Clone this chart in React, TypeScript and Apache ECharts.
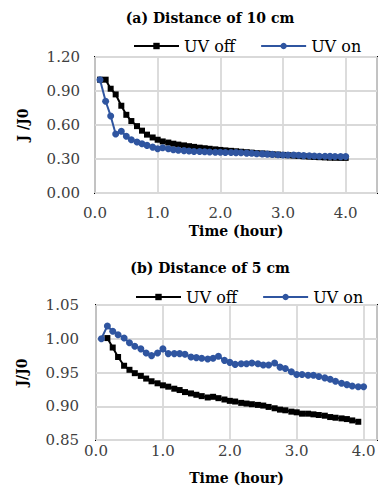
import React, { useEffect, useRef } from "react";
import * as echarts from "echarts";

// Time in hours (5-minute readings)
const timeH = [
  0.08, 0.17, 0.25, 0.33, 0.42, 0.5, 0.58, 0.67, 0.75, 0.83, 0.92, 1.0,
  1.08, 1.17, 1.25, 1.33, 1.42, 1.5, 1.58, 1.67, 1.75, 1.83, 1.92, 2.0,
  2.08, 2.17, 2.25, 2.33, 2.42, 2.5, 2.58, 2.67, 2.75, 2.83, 2.92, 3.0,
  3.08, 3.17, 3.25, 3.33, 3.42, 3.5, 3.58, 3.67, 3.75, 3.83, 3.92, 4.0,
];

// (a) Distance of 10 cm
const a_uvOff = [
  1.0, 1.0, 0.92, 0.87, 0.77, 0.69, 0.635, 0.59, 0.55, 0.515, 0.49, 0.47,
  0.455, 0.445, 0.435, 0.427, 0.42, 0.413, 0.407, 0.4, 0.395, 0.39, 0.385, 0.38,
  0.376, 0.372, 0.368, 0.364, 0.36, 0.356, 0.352, 0.349, 0.346, 0.342, 0.339, 0.336,
  0.333, 0.33, 0.327, 0.324, 0.321, 0.318, 0.316, 0.314, 0.312, 0.311, 0.31, 0.31,
];
const a_uvOn = [
  1.0, 0.81, 0.68, 0.52, 0.545, 0.5, 0.47, 0.45, 0.435, 0.42, 0.405, 0.39,
  0.4, 0.39, 0.382, 0.378, 0.374, 0.37, 0.366, 0.366, 0.364, 0.362, 0.36, 0.36,
  0.358, 0.357, 0.356, 0.355, 0.352, 0.35, 0.347, 0.345, 0.343, 0.341, 0.338, 0.336,
  0.335, 0.336, 0.333, 0.33, 0.328, 0.327, 0.325, 0.324, 0.323, 0.322, 0.321, 0.322,
];

// (b) Distance of 5 cm
const b_uvOff = [
  null, 1.001, 0.987, 0.973, 0.96, 0.954, 0.949, 0.945, 0.941, 0.937, 0.934, 0.931,
  0.929, 0.926, 0.924, 0.921, 0.919, 0.917, 0.915, 0.913, 0.914, 0.912, 0.91, 0.908,
  0.907, 0.905, 0.904, 0.903, 0.902, 0.901, 0.899, 0.897, 0.895, 0.894, 0.892, 0.891,
  0.889, 0.889, 0.888, 0.887, 0.886, 0.884, 0.883, 0.882, 0.881, 0.879, 0.877, null,
];
const b_uvOn = [
  1.0, 1.019, 1.011, 1.006, 1.001, 0.994, 0.989, 0.985, 0.979, 0.975, 0.979, 0.985,
  0.978, 0.978, 0.978, 0.977, 0.973, 0.972, 0.971, 0.97, 0.971, 0.974, 0.968, 0.965,
  0.962, 0.963, 0.963, 0.964, 0.963, 0.961, 0.961, 0.964, 0.958, 0.956, 0.951, 0.947,
  0.947, 0.946, 0.946, 0.944, 0.942, 0.94, 0.937, 0.934, 0.932, 0.93, 0.929, 0.929,
];

const seriesNames = ["UV off", "UV on"];
const titles = ["(a) Distance of 10 cm", "(b) Distance of 5 cm"];
const yNames = ["J /J0", "J/J0"];
const xName = "Time (hour)";

const FONT = "DejaVu Serif";
const BLUE = "#2f55a0";

const pairs = (vals: (number | null)[]) =>
  timeH.map((t, i) => [t, vals[i]] as [number, number | null]).filter((p) => p[1] !== null);

export default function App() {
  const ref = useRef<HTMLDivElement>(null);
  useEffect(() => {
    document.body.style.margin = "0";
    if (!ref.current) return;
    const chart = echarts.init(ref.current, undefined, { renderer: "svg" });

    const labelStyle = { fontFamily: FONT, fontSize: 15, color: "#404040" };
    const nameStyle = { fontFamily: FONT, fontSize: 14, fontWeight: "bold" as const, color: "#000" };
    const splitLine = { show: true, lineStyle: { color: "#d9d9d9", width: 1.8 } };

    const xAxisBase = (gi: number, max: number, margin: number) => ({
      type: "value",
      gridIndex: gi,
      min: 0,
      max,
      interval: 1,
      axisLine: { show: false },
      axisTick: { show: false },
      splitLine,
      axisLabel: {
        ...labelStyle,
        margin,
        formatter: (v: number) => (Math.abs(v - Math.round(v)) < 1e-6 ? v.toFixed(1) : ""),
      },
      name: xName,
      nameLocation: "middle",
      nameGap: 31,
      nameTextStyle: nameStyle,
    });

    const lineOff = (gi: number, vals: (number | null)[]) => ({
      name: seriesNames[0],
      type: "line",
      xAxisIndex: gi,
      yAxisIndex: gi,
      data: pairs(vals),
      symbol: "rect",
      symbolSize: 6,
      itemStyle: { color: "#000" },
      lineStyle: { color: "#000", width: 2 },
    });
    const lineOn = (gi: number, vals: (number | null)[]) => ({
      name: seriesNames[1],
      type: "line",
      xAxisIndex: gi,
      yAxisIndex: gi,
      data: pairs(vals),
      symbol: "circle",
      symbolSize: 7,
      itemStyle: { color: BLUE },
      lineStyle: { color: BLUE, width: 2 },
    });

    const legendBase = (top: number, left: number) => ({
      top,
      left,
      data: seriesNames,
      itemWidth: 45,
      itemHeight: 8,
      itemGap: 25,
      textStyle: { fontFamily: FONT, fontSize: 16, color: "#000" },
    });

    const titleStyle = { fontFamily: FONT, fontSize: 14, fontWeight: "bold", color: "#000" };

    chart.setOption({
      animation: false,
      title: [
        { text: titles[0], left: 205, top: 6, textAlign: "center", textStyle: titleStyle },
        { text: titles[1], left: 205, top: 256, textAlign: "center", textStyle: titleStyle },
      ],
      legend: [legendBase(33, 128), legendBase(284, 130)],
      grid: [
        { left: 95, top: 57, width: 283, height: 136, show: true, borderColor: "#000", borderWidth: 2, backgroundColor: "transparent" },
        { left: 96, top: 305, width: 282, height: 135, show: true, borderColor: "#000", borderWidth: 2, backgroundColor: "transparent" },
      ],
      xAxis: [xAxisBase(0, 4.5, 12), xAxisBase(1, 4.2, 3)],
      yAxis: [
        {
          type: "value",
          gridIndex: 0,
          min: 0,
          max: 1.2,
          interval: 0.3,
          axisLine: { show: false },
          axisTick: { show: false },
          splitLine,
          axisLabel: { ...labelStyle, margin: 15, formatter: (v: number) => v.toFixed(2) },
          name: yNames[0],
          nameLocation: "middle",
          nameGap: 65,
          nameTextStyle: nameStyle,
        },
        {
          type: "value",
          gridIndex: 1,
          min: 0.85,
          max: 1.05,
          interval: 0.05,
          axisLine: { show: false },
          axisTick: { show: false },
          splitLine,
          axisLabel: { ...labelStyle, margin: 17, formatter: (v: number) => v.toFixed(2) },
          name: yNames[1],
          nameLocation: "middle",
          nameGap: 67,
          nameTextStyle: nameStyle,
        },
      ],
      series: [lineOff(0, a_uvOff), lineOn(0, a_uvOn), lineOff(1, b_uvOff), lineOn(1, b_uvOn)],
    });
    return () => chart.dispose();
  }, []);
  return <div ref={ref} style={{ width: 380, height: 488 }} />;
}
